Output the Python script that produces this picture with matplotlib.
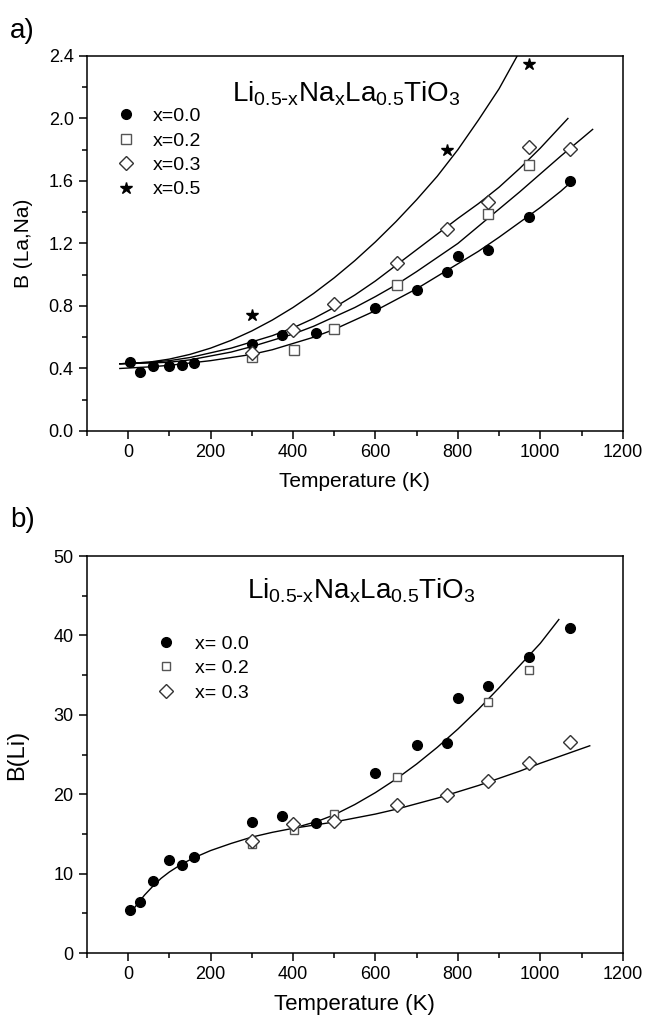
import matplotlib
matplotlib.use("Agg")
import matplotlib.pyplot as plt
import numpy as np
from matplotlib.ticker import MultipleLocator

plt.rcParams['font.family'] = ['Liberation Sans', 'DejaVu Sans']

# ---- panel a: B(La,Na) ----
t_a0 = [5, 30, 60, 100, 130, 160, 300, 373, 457, 600, 700, 773, 800, 873, 973, 1073]
b_a0 = [0.444, 0.380, 0.416, 0.416, 0.425, 0.437, 0.557, 0.612, 0.625, 0.785, 0.902,
        1.02, 1.12, 1.158, 1.372, 1.60]
t_a2 = [300, 403, 500, 653, 873, 973]
b_a2 = [0.471, 0.518, 0.651, 0.934, 1.387, 1.70]
t_a3 = [300, 400, 500, 653, 773, 873, 973, 1073]
b_a3 = [0.50, 0.646, 0.811, 1.077, 1.295, 1.466, 1.82, 1.807]
t_a5 = [300, 773, 973]
b_a5 = [0.742, 1.798, 2.347]

# fitted curves
fit_t_a0 = [-20, 50, 100, 150, 200, 250, 300, 350, 400, 450, 500, 550, 600, 650, 700,
            750, 800, 850, 900, 950, 1000, 1050, 1082]
fit_b_a0 = [0.40, 0.41, 0.42, 0.435, 0.45, 0.47, 0.49, 0.52, 0.56, 0.60, 0.65, 0.71,
            0.77, 0.84, 0.91, 0.99, 1.07, 1.15, 1.24, 1.335, 1.43, 1.535, 1.61]
fit_t_a2 = [-20, 50, 100, 150, 200, 250, 300, 350, 400, 450, 500, 550, 600, 650, 700,
            750, 800, 850, 900, 950, 1000, 1050, 1100, 1127]
fit_b_a2 = [0.43, 0.435, 0.44, 0.455, 0.48, 0.505, 0.54, 0.58, 0.62, 0.67, 0.73, 0.79,
            0.86, 0.935, 1.02, 1.11, 1.20, 1.31, 1.42, 1.53, 1.645, 1.76, 1.87, 1.93]
fit_t_a3 = [-20, 50, 100, 150, 200, 250, 300, 350, 400, 450, 500, 550, 600, 650, 700,
            750, 800, 850, 900, 950, 1000, 1067]
fit_b_a3 = [0.43, 0.44, 0.45, 0.47, 0.50, 0.53, 0.57, 0.61, 0.66, 0.72, 0.79, 0.87,
            0.96, 1.06, 1.16, 1.26, 1.36, 1.455, 1.56, 1.68, 1.81, 2.00]
fit_t_a5 = [-20, 50, 100, 150, 200, 250, 300, 350, 400, 450, 500, 550, 600, 650, 700,
            750, 800, 850, 900, 944]
fit_b_a5 = [0.43, 0.44, 0.46, 0.49, 0.53, 0.58, 0.64, 0.71, 0.79, 0.88, 0.98, 1.09,
            1.21, 1.34, 1.48, 1.63, 1.80, 1.99, 2.19, 2.40]

# ---- panel b: B(Li) ----
t_b0 = [5, 30, 60, 100, 130, 160, 300, 373, 457, 600, 700, 773, 800, 873, 973, 1073]
b_b0 = [5.43, 6.48, 9.05, 11.66, 11.03, 12.08, 16.5, 17.2, 16.4, 22.7, 26.26, 26.5,
        32.06, 33.66, 37.27, 40.97]
t_b2 = [300, 403, 500, 653, 873, 973]
b_b2 = [13.68, 15.54, 17.56, 22.19, 31.64, 35.67]
t_b3 = [300, 400, 500, 653, 773, 873, 973, 1073]
b_b3 = [14.1, 16.2, 16.63, 18.69, 19.96, 21.68, 23.96, 26.6]

fit_t_b = [5, 20, 40, 60, 80, 100, 130, 160, 200, 250, 300, 350, 400, 450, 500, 550,
           600, 650, 700, 750, 800, 850, 900, 950, 1000, 1060, 1120]
fit_b_b = [5.0, 6.0, 7.3, 8.4, 9.4, 10.2, 11.2, 12.0, 12.9, 13.8, 14.6, 15.2, 15.7,
           16.1, 16.5, 17.0, 17.5, 18.1, 18.8, 19.5, 20.3, 21.1, 22.0, 22.9, 23.9,
           25.0, 26.1]
fit_t_b_up = [420, 460, 500, 550, 600, 650, 700, 750, 800, 850, 900, 950, 1000, 1045]
fit_b_b_up = [16.0, 16.6, 17.4, 18.7, 20.2, 21.9, 23.8, 25.9, 28.2, 30.7, 33.4, 36.2,
              39.0, 42.0]

formula = r'Li$_{\mathregular{0.5\text{-}x}}$Na$_{\mathregular{x}}$La$_{\mathregular{0.5}}$TiO$_{\mathregular{3}}$'

fig = plt.figure(figsize=(6.48, 10.23), dpi=100)
ax1 = fig.add_axes([0.134, 0.5787, 0.827, 0.3666])
ax2 = fig.add_axes([0.134, 0.0684, 0.827, 0.3881])

# panel a
ax1.plot(fit_t_a0, fit_b_a0, color='black', lw=1)
ax1.plot(fit_t_a2, fit_b_a2, color='black', lw=1)
ax1.plot(fit_t_a3, fit_b_a3, color='black', lw=1)
ax1.plot(fit_t_a5, fit_b_a5, color='black', lw=1)
ax1.plot(t_a0, b_a0, 'o', color='black', ms=7, label='x=0.0')
ax1.plot(t_a2, b_a2, 's', mfc='white', mec='#555555', mew=1, ms=6.5, label='x=0.2')
ax1.plot(t_a3, b_a3, 'D', mfc='white', mec='#333333', mew=1, ms=7, label='x=0.3')
ax1.plot(t_a5, b_a5, '*', color='black', ms=9, label='x=0.5')
ax1.set_xlim(-100, 1200)
ax1.set_ylim(0, 2.4)
ax1.yaxis.set_major_locator(MultipleLocator(0.4))
ax1.yaxis.set_minor_locator(MultipleLocator(0.2))
ax1.set_xlabel('Temperature (K)', fontsize=15, labelpad=8)
ax1.set_ylabel('B (La,Na)', fontsize=15)
ax1.yaxis.set_label_coords(-0.10, 0.5)
ax1.text(530, 2.16, formula, fontsize=20, ha='center', va='center')
ax1.legend(loc='upper left', bbox_to_anchor=(0.04, 0.883), frameon=False, fontsize=14,
           handletextpad=0.9, labelspacing=0.35, handlelength=1.0, borderaxespad=0)

# panel b
ax2.plot(fit_t_b, fit_b_b, color='black', lw=1)
ax2.plot(fit_t_b_up, fit_b_b_up, color='black', lw=1)
ax2.plot(t_b0, b_b0, 'o', color='black', ms=7, label='x= 0.0')
ax2.plot(t_b2, b_b2, 's', mfc='white', mec='#555555', mew=1, ms=6, label='x= 0.2')
ax2.plot(t_b3, b_b3, 'D', mfc='white', mec='#333333', mew=1, ms=7, label='x= 0.3')
ax2.set_xlim(-100, 1200)
ax2.set_ylim(0, 50)
ax2.yaxis.set_major_locator(MultipleLocator(10))
ax2.yaxis.set_minor_locator(MultipleLocator(5))
ax2.set_xlabel('Temperature (K)', fontsize=16, labelpad=8)
ax2.set_ylabel('B(Li)', fontsize=17)
ax2.yaxis.set_label_coords(-0.11, 0.5)
ax2.text(565, 45.7, formula, fontsize=20, ha='center', va='center')
ax2.legend(loc='upper left', bbox_to_anchor=(0.115, 0.82), frameon=False, fontsize=14,
           handletextpad=1.0, labelspacing=0.35, handlelength=1.0, borderaxespad=0)

for ax in (ax1, ax2):
    ax.xaxis.set_major_locator(MultipleLocator(200))
    ax.xaxis.set_minor_locator(MultipleLocator(100))
    ax.tick_params(which='both', direction='out', top=False, right=False, labelsize=13)
    ax.tick_params(which='major', length=6, width=1.1)
    ax.tick_params(which='minor', length=3.5, width=1.1)
    for s in ax.spines.values():
        s.set_linewidth(1.1)

fig.text(0.015, 0.970, 'a)', fontsize=20, va='center')
fig.text(0.015, 0.492, 'b)', fontsize=20, va='center')

fig.savefig('out.png', dpi=100)
